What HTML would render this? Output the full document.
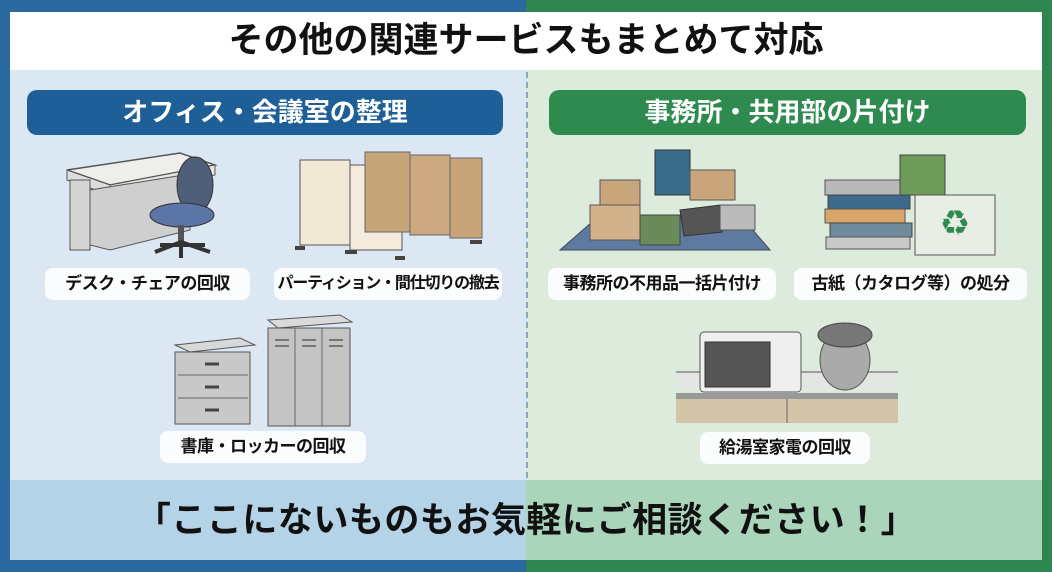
<!DOCTYPE html>
<html><head><meta charset="utf-8">
<style>
*{margin:0;padding:0;box-sizing:border-box}
body{width:1052px;height:572px;overflow:hidden;font-family:"Liberation Sans","Noto Sans CJK JP",sans-serif;position:relative;background:#2a6aa0}
.abs{position:absolute}
.lbl{position:absolute;background:#fbfcfd;border-radius:8px;font-weight:bold;font-size:17px;color:#111;text-align:center;line-height:32px;height:32px;white-space:nowrap;letter-spacing:-0.5px}
.pill{position:absolute;top:90px;height:45px;border-radius:10px;color:#fff;font-weight:bold;font-size:26px;text-align:center;line-height:45px}
</style></head><body>
<div class="abs" style="left:526px;top:0;width:526px;height:572px;background:#2e8550"></div>
<div class="abs" style="left:10px;top:70px;width:516px;height:410px;background:#dbe8f4"></div>
<div class="abs" style="left:526px;top:70px;width:516px;height:410px;background:#dcebdc"></div>
<div class="abs" style="left:526px;top:72px;height:406px;border-left:2px dashed #8aa8b8"></div>
<div class="abs" style="left:10px;top:12px;width:1032px;height:58px;background:#fff"></div>
<div class="abs" style="left:0;top:12px;width:1052px;text-align:center;font-weight:bold;font-size:35px;line-height:58px;color:#111">その他の関連サービスもまとめて対応</div>
<div class="abs" style="left:10px;top:480px;width:516px;height:80px;background:#b4d3e6"></div>
<div class="abs" style="left:526px;top:480px;width:516px;height:80px;background:#aad5bb"></div>
<div class="abs" style="left:0;top:480px;width:1052px;text-align:center;font-weight:bold;font-size:35px;line-height:82px;color:#111;letter-spacing:0.5px">「ここにないものもお気軽にご相談ください！」</div>

<div class="pill" style="left:27px;width:476px;background:#1f5f97">オフィス・会議室の整理</div>
<div class="pill" style="left:549px;width:477px;background:#2e8a4e">事務所・共用部の片付け</div>

<svg class="abs" style="left:0;top:0" width="1052" height="572">
<polygon points="67,170 180,153 215,165 110,185" fill="#eeeeea" stroke="#555" stroke-width="1.5"/>
<polygon points="67,170 110,185 110,195 67,180" fill="#ddd" stroke="#555"/>
<polygon points="110,185 215,165 215,175 110,195" fill="#e6e6e2" stroke="#555"/>
<rect x="70" y="180" width="20" height="70" fill="#d5d5d5" stroke="#555"/>
<polygon points="90,190 190,174 190,230 110,250 90,245" fill="#cfcfcf" stroke="#555"/>
<ellipse cx="195" cy="185" rx="18" ry="28" fill="#4f5f7a" stroke="#333"/>
<ellipse cx="182" cy="215" rx="32" ry="12" fill="#5b76a6" stroke="#333"/>
<rect x="178" y="225" width="6" height="20" fill="#555"/>
<path d="M155 252 L181 242 L210 252 M181 242 L181 258 M160 245 L205 245" stroke="#333" stroke-width="4" fill="none"/>
<rect x="300" y="160" width="50" height="85" fill="#f1e9d6" stroke="#555"/>
<rect x="350" y="165" width="52" height="85" fill="#f3ecdc" stroke="#555"/>
<rect x="365" y="152" width="45" height="80" fill="#c7a57a" stroke="#666"/>
<rect x="410" y="155" width="40" height="80" fill="#cda982" stroke="#666"/>
<rect x="450" y="158" width="32" height="80" fill="#c9a47b" stroke="#666"/>
<path d="M295 248 h10 M345 252 h12 M395 258 h10 M470 242 h12" stroke="#444" stroke-width="4"/>
<polygon points="175,345 240,338 255,345 190,352" fill="#d8d8d8" stroke="#555"/>
<rect x="175" y="352" width="75" height="72" fill="#c8c8c8" stroke="#555"/>
<path d="M178 375 h70 M178 398 h70" stroke="#666"/>
<path d="M205 364 h14 M205 387 h14 M205 410 h14" stroke="#444" stroke-width="3"/>
<polygon points="268,320 340,315 352,322 278,328" fill="#dadada" stroke="#555"/>
<rect x="268" y="328" width="82" height="98" fill="#c4c4c4" stroke="#555"/>
<path d="M295 328 v98 M322 328 v98" stroke="#666"/>
<path d="M275 340 h14 M302 340 h14 M329 340 h14 M275 346 h14 M302 346 h14 M329 346 h14" stroke="#777" stroke-width="2"/>
<polygon points="560,250 600,215 740,215 770,250" fill="#5f7aa0" stroke="#445"/>
<rect x="600" y="180" width="40" height="30" fill="#c8a57a" stroke="#555"/>
<rect x="655" y="150" width="35" height="45" fill="#3b6b8a" stroke="#333"/>
<rect x="690" y="170" width="45" height="30" fill="#c8a57a" stroke="#555"/>
<rect x="590" y="205" width="50" height="35" fill="#d2b28a" stroke="#555"/>
<rect x="640" y="215" width="40" height="30" fill="#6b8a5a" stroke="#444"/>
<polygon points="680,210 720,205 722,232 684,236" fill="#555" stroke="#333"/>
<rect x="720" y="205" width="35" height="25" fill="#bbb" stroke="#555"/>
<rect x="825" y="180" width="80" height="15" fill="#b9b9b9" stroke="#555"/>
<rect x="828" y="195" width="82" height="14" fill="#3e6a8a" stroke="#444"/>
<rect x="825" y="209" width="80" height="14" fill="#d9a46a" stroke="#555"/>
<rect x="830" y="223" width="82" height="14" fill="#6f8a9a" stroke="#444"/>
<rect x="826" y="237" width="84" height="12" fill="#c9c9c9" stroke="#555"/>
<rect x="900" y="155" width="45" height="40" fill="#6e9a5a" stroke="#444"/>
<rect x="915" y="195" width="80" height="60" fill="#e8ede6" stroke="#555"/>
<text x="955" y="232" font-size="26" fill="#2e8a4e" text-anchor="middle">♻</text>
<rect x="676" y="370" width="222" height="20" fill="#e3e6e3"/>
<path d="M676 372 h222" stroke="#555"/>
<rect x="676" y="393" width="222" height="6" fill="#999"/>
<rect x="676" y="399" width="222" height="24" fill="#d4c5aa"/>
<path d="M787 399 v24" stroke="#666"/>
<rect x="700" y="332" width="101" height="60" rx="4" fill="#efefef" stroke="#555"/>
<rect x="705" y="342" width="65" height="45" fill="#555" stroke="#333"/>
<ellipse cx="845" cy="360" rx="25" ry="30" fill="#aaa" stroke="#555"/>
<ellipse cx="845" cy="335" rx="27" ry="12" fill="#777" stroke="#444"/>
</svg>

<div class="lbl" style="left:45px;top:268px;width:205px">デスク・チェアの回収</div>
<div class="lbl" style="left:274px;top:268px;width:228px;font-size:16px;letter-spacing:-1.2px">パーティション・間仕切りの撤去</div>
<div class="lbl" style="left:160px;top:431px;width:206px">書庫・ロッカーの回収</div>
<div class="lbl" style="left:548px;top:268px;width:228px">事務所の不用品一括片付け</div>
<div class="lbl" style="left:794px;top:268px;width:233px">古紙（カタログ等）の処分</div>
<div class="lbl" style="left:700px;top:432px;width:170px">給湯室家電の回収</div>
</body></html>
